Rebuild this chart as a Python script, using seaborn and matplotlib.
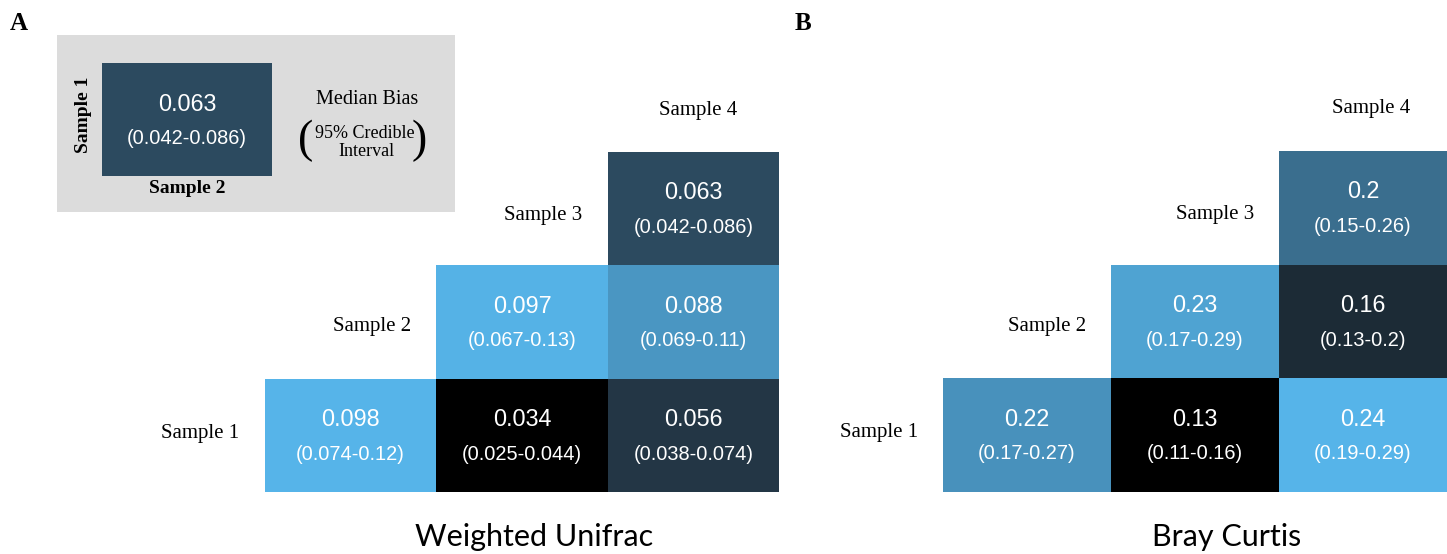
import numpy as np
import pandas as pd
import matplotlib
matplotlib.use("Agg")
import matplotlib.pyplot as plt
import seaborn as sns
from matplotlib.colors import LinearSegmentedColormap

# ---------------- data ----------------
row_samples = ["Sample 3", "Sample 2", "Sample 1"]   # top -> bottom
col_samples = ["Sample 2", "Sample 3", "Sample 4"]   # left -> right

pair_rows = ["Sample 1", "Sample 1", "Sample 1", "Sample 2", "Sample 2", "Sample 3"]
pair_cols = ["Sample 2", "Sample 3", "Sample 4", "Sample 3", "Sample 4", "Sample 4"]

wu_median = [0.098, 0.034, 0.056, 0.097, 0.088, 0.063]
wu_lower = [0.074, 0.025, 0.038, 0.067, 0.069, 0.042]
wu_upper = [0.12, 0.044, 0.074, 0.13, 0.11, 0.086]

bc_median = [0.22, 0.13, 0.24, 0.23, 0.16, 0.2]
bc_lower = [0.17, 0.11, 0.19, 0.17, 0.13, 0.15]
bc_upper = [0.27, 0.16, 0.29, 0.29, 0.2, 0.26]

titles = ["Weighted Unifrac", "Bray Curtis"]
panel_letters = ["A", "B"]

legend_median = 0.063
legend_lower = 0.042
legend_upper = 0.086
legend_row = "Sample 1"
legend_col = "Sample 2"

# ---------------- style ----------------
W, H = 1447, 554
SERIF = ["Liberation Serif", "DejaVu Serif"]
SANS = ["Liberation Sans", "DejaVu Sans"]
TITLE_FONT = ["Lato", "DejaVu Sans"]
VAL_FS = 16.8
CI_FS = 14.4
LABEL_FS = 15
row_label_y = [0.56, 0.54, 0.48]   # vertical placement of row labels within rows

cmap = LinearSegmentedColormap.from_list(
    "bias", [(0.0, "#000000"), (0.35, "#243746"), (1.0, "#56B4E9")])

fig = plt.figure(figsize=(W / 100, H / 100), dpi=100)


def px_axes(x0, y0, x1, y1):
    return fig.add_axes([x0 / W, 1 - y1 / H, (x1 - x0) / W, (y1 - y0) / H])


def draw_panel(ax, med, lo, hi, title, title_x, top_dx):
    df = pd.DataFrame({"row": pair_rows, "col": pair_cols, "median": med,
                       "lo": lo, "hi": hi})
    mat = df.pivot(index="row", columns="col", values="median").reindex(
        index=row_samples, columns=col_samples)
    sns.heatmap(mat, ax=ax, cmap=cmap, vmin=min(med), vmax=max(med),
                cbar=False, mask=mat.isna(), linewidths=0)
    ax.set_xticks([])
    ax.set_yticks([])
    ax.set_xlabel("")
    ax.set_ylabel("")
    for _, r in df.iterrows():
        i = row_samples.index(r["row"])
        j = col_samples.index(r["col"])
        ax.text(j + 0.5, i + 0.36, f"{r['median']:g}", ha="center",
                va="center", color="white", fontsize=VAL_FS, family=SANS)
        ax.text(j + 0.5, i + 0.665, f"({r['lo']:g}-{r['hi']:g})", ha="center",
                va="center", color="white", fontsize=CI_FS, family=SANS)
    # row labels next to the first cell of each row
    for i, rs in enumerate(row_samples):
        j0 = int(np.where(mat.loc[rs].notna().values)[0][0])
        ax.text(j0 - 0.15, i + row_label_y[i], rs, ha="right", va="center",
                fontsize=LABEL_FS, family=SERIF)
    ax.text(len(col_samples) - 0.5 + top_dx, -0.37, col_samples[-1],
            ha="center", va="center", fontsize=LABEL_FS, family=SERIF)
    ax.text(title_x, 3.4, title, ha="center", va="center", fontsize=22,
            family=TITLE_FONT)


axA = px_axes(265, 152, 779, 492)
draw_panel(axA, wu_median, wu_lower, wu_upper, titles[0], 1.57, 0.03)
axB = px_axes(943, 151, 1447, 492)
draw_panel(axB, bc_median, bc_lower, bc_upper, titles[1], 1.69, 0.05)

fig.text(10 / W, 1 - 24 / H, panel_letters[0], fontsize=18, fontweight="bold",
         family=SERIF, va="center", ha="left")
fig.text(795 / W, 1 - 24 / H, panel_letters[1], fontsize=18, fontweight="bold",
         family=SERIF, va="center", ha="left")

# ---------------- legend inset ----------------
box = px_axes(57, 35, 455, 212)
box.set_facecolor("#DCDCDC")
box.set_xticks([])
box.set_yticks([])
for s in box.spines.values():
    s.set_visible(False)

cell = px_axes(102, 63, 272, 176)
sns.heatmap(pd.DataFrame([[legend_median]], index=[legend_row],
                         columns=[legend_col]),
            ax=cell, cmap=cmap, vmin=min(wu_median), vmax=max(wu_median),
            cbar=False)
cell.set_xticks([])
cell.set_yticks([])
cell.set_xlabel("")
cell.set_ylabel("")
cell.text(0.5, 0.37, f"{legend_median:g}", ha="center", va="center",
          color="white", fontsize=VAL_FS, family=SANS)
cell.text(0.5, 0.665, f"({legend_lower:g}-{legend_upper:g})", ha="center",
          va="center", color="white", fontsize=CI_FS, family=SANS)
cell.text(-0.11, 0.46, legend_row, rotation=90, ha="center", va="center",
          fontsize=14, fontweight="bold", family=SERIF)
cell.text(0.5, 1.11, legend_col, ha="center", va="center",
          fontsize=14, fontweight="bold", family=SERIF)

fig.text(367 / W, 1 - 100 / H, "Median Bias", ha="center", va="center",
         fontsize=14.5, family=SERIF)
fig.text(365 / W, 1 - 133 / H, "95% Credible", ha="center", va="center",
         fontsize=13, family=SERIF)
fig.text(366 / W, 1 - 152 / H, "Interval", ha="center", va="center",
         fontsize=13, family=SERIF)
fig.text(306 / W, 1 - 141 / H, "(", ha="center", va="center",
         fontsize=33, family=SERIF)
fig.text(419 / W, 1 - 141 / H, ")", ha="center", va="center",
         fontsize=33, family=SERIF)

fig.savefig("out.png", dpi=100)
